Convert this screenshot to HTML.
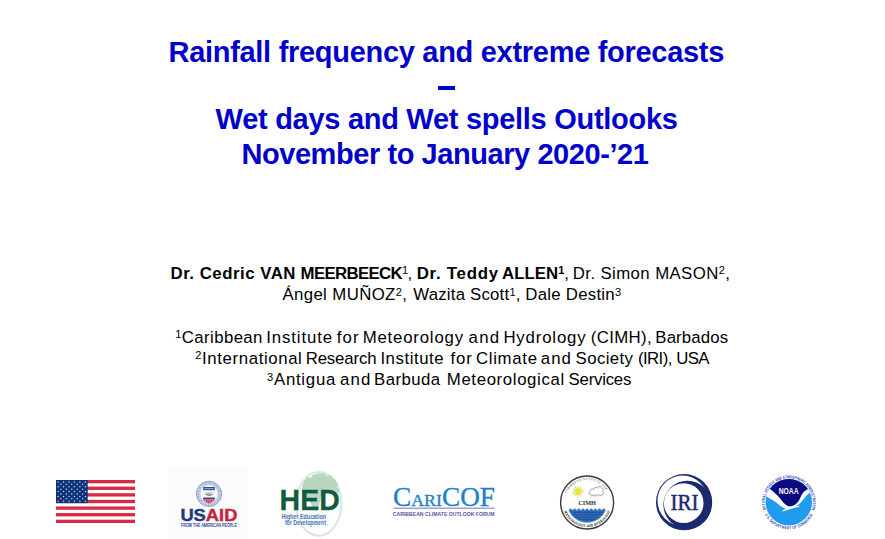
<!DOCTYPE html>
<html><head><meta charset="utf-8">
<style>
html,body{margin:0;padding:0;background:#fff;}
body{width:885px;height:539px;position:relative;overflow:hidden;font-family:"Liberation Sans",sans-serif;}
.t{position:absolute;font-weight:bold;font-size:29.0px;line-height:34px;color:#0000cc;white-space:nowrap;}
.b{position:absolute;font-size:16.8px;line-height:20px;color:#000;white-space:nowrap;}
sup{font-size:66%;vertical-align:baseline;position:relative;top:-0.44em;}
svg{position:absolute;overflow:visible;}
</style></head><body>
<div class="t" style="left:168.5px;top:34.8px;letter-spacing:-0.295px">Rainfall frequency and extreme forecasts</div>
<div class="t" style="left:215.6px;top:101.8px;letter-spacing:-0.284px">Wet days and Wet spells Outlooks</div>
<div class="t" style="left:241.4px;top:137.2px;letter-spacing:-0.43px">November to January 2020-’21</div>
<div style="position:absolute;left:438.4px;top:85.9px;width:16.5px;height:4.2px;background:#0000cc"></div>
<div class="b" style="left:170.5px;top:263.9px;letter-spacing:0.523px"><b>Dr. Cedric VAN</b></div>
<div class="b" style="left:300.6px;top:263.9px;letter-spacing:-0.66px"><b>MEERBEECK</b><sup>1</sup>,</div>
<div class="b" style="left:416.7px;top:263.9px;letter-spacing:0.775px"><b>Dr. Teddy</b></div>
<div class="b" style="left:502.1px;top:263.9px;letter-spacing:0.017px"><b>ALLEN<sup>1</sup></b>,</div>
<div class="b" style="left:572.8px;top:263.9px;letter-spacing:0.4px">Dr. Simon MASON<sup>2</sup>,</div>
<div class="b" style="left:282.4px;top:285.4px;letter-spacing:0.383px">Ángel MUÑOZ<sup>2</sup>,</div>
<div class="b" style="left:413.3px;top:285.4px;letter-spacing:0.208px">Wazita Scott<sup>1</sup>,</div>
<div class="b" style="left:525.3px;top:285.4px;letter-spacing:0.264px">Dale Destin<sup>3</sup></div>
<div class="b" style="left:175.3px;top:327.6px;letter-spacing:0.389px"><sup>1</sup>Caribbean</div>
<div class="b" style="left:266.2px;top:327.6px;letter-spacing:0.9px">Institute</div>
<div class="b" style="left:336.8px;top:327.6px;letter-spacing:1.05px">for</div>
<div class="b" style="left:362.7px;top:327.6px;letter-spacing:0.8px">Meteorology</div>
<div class="b" style="left:468.6px;top:327.6px;letter-spacing:1.25px">and</div>
<div class="b" style="left:503.4px;top:327.6px;letter-spacing:0.838px">Hydrology</div>
<div class="b" style="left:590.8px;top:327.6px;letter-spacing:0.367px">(CIMH),</div>
<div class="b" style="left:655.3px;top:327.6px;letter-spacing:0.143px">Barbados</div>
<div class="b" style="left:195.3px;top:349.0px;letter-spacing:0.615px"><sup>2</sup>International</div>
<div class="b" style="left:305.7px;top:349.0px;letter-spacing:-0.143px">Research</div>
<div class="b" style="left:380.4px;top:349.0px;letter-spacing:0.55px">Institute</div>
<div class="b" style="left:450.6px;top:349.0px;letter-spacing:0.8px">for</div>
<div class="b" style="left:475.9px;top:349.0px;letter-spacing:0.7px">Climate</div>
<div class="b" style="left:540.8px;top:349.0px;letter-spacing:1.036px">and</div>
<div class="b" style="left:575.6px;top:349.0px;letter-spacing:0.383px">Society</div>
<div class="b" style="left:637.9px;top:349.0px;letter-spacing:-0.564px">(IRI),</div>
<div class="b" style="left:676.2px;top:349.0px;letter-spacing:-0.564px">USA</div>
<div class="b" style="left:267.1px;top:370.4px;letter-spacing:0.729px"><sup>3</sup>Antigua</div>
<div class="b" style="left:339.9px;top:370.4px;letter-spacing:1.214px">and</div>
<div class="b" style="left:374.0px;top:370.4px;letter-spacing:0.433px">Barbuda</div>
<div class="b" style="left:446.8px;top:370.4px;letter-spacing:0.631px">Meteorological</div>
<div class="b" style="left:568.6px;top:370.4px;letter-spacing:-0.229px">Services</div>
<svg style="left:0;top:0" width="885" height="539" viewBox="0 0 885 539">
<g id="flag"><rect x="56.0" y="480.0" width="79.0" height="43.0" fill="#fff"/><rect x="56.0" y="480.00" width="79.0" height="3.31" fill="#d62a43"/><rect x="56.0" y="486.62" width="79.0" height="3.31" fill="#d62a43"/><rect x="56.0" y="493.23" width="79.0" height="3.31" fill="#d62a43"/><rect x="56.0" y="499.85" width="79.0" height="3.31" fill="#d62a43"/><rect x="56.0" y="506.46" width="79.0" height="3.31" fill="#d62a43"/><rect x="56.0" y="513.08" width="79.0" height="3.31" fill="#d62a43"/><rect x="56.0" y="519.69" width="79.0" height="3.31" fill="#d62a43"/><rect x="56.0" y="480.0" width="31.7" height="23.15" fill="#0c3279"/><circle cx="58.10" cy="481.95" r="0.75" fill="#fff" opacity=".8"/><circle cx="63.55" cy="481.95" r="0.75" fill="#fff" opacity=".8"/><circle cx="69.00" cy="481.95" r="0.75" fill="#fff" opacity=".8"/><circle cx="74.45" cy="481.95" r="0.75" fill="#fff" opacity=".8"/><circle cx="79.90" cy="481.95" r="0.75" fill="#fff" opacity=".8"/><circle cx="85.35" cy="481.95" r="0.75" fill="#fff" opacity=".8"/><circle cx="60.85" cy="484.36" r="0.75" fill="#fff" opacity=".8"/><circle cx="66.30" cy="484.36" r="0.75" fill="#fff" opacity=".8"/><circle cx="71.75" cy="484.36" r="0.75" fill="#fff" opacity=".8"/><circle cx="77.20" cy="484.36" r="0.75" fill="#fff" opacity=".8"/><circle cx="82.65" cy="484.36" r="0.75" fill="#fff" opacity=".8"/><circle cx="58.10" cy="486.77" r="0.75" fill="#fff" opacity=".8"/><circle cx="63.55" cy="486.77" r="0.75" fill="#fff" opacity=".8"/><circle cx="69.00" cy="486.77" r="0.75" fill="#fff" opacity=".8"/><circle cx="74.45" cy="486.77" r="0.75" fill="#fff" opacity=".8"/><circle cx="79.90" cy="486.77" r="0.75" fill="#fff" opacity=".8"/><circle cx="85.35" cy="486.77" r="0.75" fill="#fff" opacity=".8"/><circle cx="60.85" cy="489.18" r="0.75" fill="#fff" opacity=".8"/><circle cx="66.30" cy="489.18" r="0.75" fill="#fff" opacity=".8"/><circle cx="71.75" cy="489.18" r="0.75" fill="#fff" opacity=".8"/><circle cx="77.20" cy="489.18" r="0.75" fill="#fff" opacity=".8"/><circle cx="82.65" cy="489.18" r="0.75" fill="#fff" opacity=".8"/><circle cx="58.10" cy="491.59" r="0.75" fill="#fff" opacity=".8"/><circle cx="63.55" cy="491.59" r="0.75" fill="#fff" opacity=".8"/><circle cx="69.00" cy="491.59" r="0.75" fill="#fff" opacity=".8"/><circle cx="74.45" cy="491.59" r="0.75" fill="#fff" opacity=".8"/><circle cx="79.90" cy="491.59" r="0.75" fill="#fff" opacity=".8"/><circle cx="85.35" cy="491.59" r="0.75" fill="#fff" opacity=".8"/><circle cx="60.85" cy="494.00" r="0.75" fill="#fff" opacity=".8"/><circle cx="66.30" cy="494.00" r="0.75" fill="#fff" opacity=".8"/><circle cx="71.75" cy="494.00" r="0.75" fill="#fff" opacity=".8"/><circle cx="77.20" cy="494.00" r="0.75" fill="#fff" opacity=".8"/><circle cx="82.65" cy="494.00" r="0.75" fill="#fff" opacity=".8"/><circle cx="58.10" cy="496.41" r="0.75" fill="#fff" opacity=".8"/><circle cx="63.55" cy="496.41" r="0.75" fill="#fff" opacity=".8"/><circle cx="69.00" cy="496.41" r="0.75" fill="#fff" opacity=".8"/><circle cx="74.45" cy="496.41" r="0.75" fill="#fff" opacity=".8"/><circle cx="79.90" cy="496.41" r="0.75" fill="#fff" opacity=".8"/><circle cx="85.35" cy="496.41" r="0.75" fill="#fff" opacity=".8"/><circle cx="60.85" cy="498.82" r="0.75" fill="#fff" opacity=".8"/><circle cx="66.30" cy="498.82" r="0.75" fill="#fff" opacity=".8"/><circle cx="71.75" cy="498.82" r="0.75" fill="#fff" opacity=".8"/><circle cx="77.20" cy="498.82" r="0.75" fill="#fff" opacity=".8"/><circle cx="82.65" cy="498.82" r="0.75" fill="#fff" opacity=".8"/><circle cx="58.10" cy="501.23" r="0.75" fill="#fff" opacity=".8"/><circle cx="63.55" cy="501.23" r="0.75" fill="#fff" opacity=".8"/><circle cx="69.00" cy="501.23" r="0.75" fill="#fff" opacity=".8"/><circle cx="74.45" cy="501.23" r="0.75" fill="#fff" opacity=".8"/><circle cx="79.90" cy="501.23" r="0.75" fill="#fff" opacity=".8"/><circle cx="85.35" cy="501.23" r="0.75" fill="#fff" opacity=".8"/></g>
<g id="usaid"><rect x="168" y="466" width="80" height="73" fill="#fcfcfd"/><circle cx="209.0" cy="493.9" r="12.6" fill="#fff" stroke="#6c84bf" stroke-width="0.8"/><circle cx="209.0" cy="493.9" r="10.9" fill="none" stroke="#8b9dcb" stroke-width="2.6" stroke-dasharray="1.1 0.45" opacity=".85"/><circle cx="209.0" cy="493.9" r="9.2" fill="none" stroke="#8b9dcb" stroke-width="0.6"/><rect x="203.2" y="487.1" width="11.6" height="3.2" rx=".4" fill="#2b4a95"/><rect x="204.3" y="488.2" width="9.4" height="0.9" fill="#c9d2ea" opacity=".8"/><path d="M203.6 492.7 L208 492.9 L210 492.2 L214.6 492.6" stroke="#a5a5a5" stroke-width=".5" fill="none"/><path d="M204.2 494.3 C206.5 493.4 209 493 211.5 493.8 L214.2 494.6 L210.5 496 C208.5 496.4 206.5 495.8 204.2 494.3Z" fill="#8c8c8c" opacity=".85"/><path d="M203.2 497.5 H214.8 V499.3 H203.2Z" fill="#2b4a95"/><path d="M203.2 499.3 H214.8 C214.3 501.2 211.5 502.8 209 503.4 C206.5 502.8 203.7 501.2 203.2 499.3Z" fill="#d8304a"/><rect x="205.0" y="499.4" width=".6" height="3.4" fill="#fff" opacity=".55"/><rect x="206.79999999999998" y="499.4" width=".6" height="3.4" fill="#fff" opacity=".55"/><rect x="208.7" y="499.4" width=".6" height="3.4" fill="#fff" opacity=".55"/><rect x="210.6" y="499.4" width=".6" height="3.4" fill="#fff" opacity=".55"/><rect x="212.39999999999998" y="499.4" width=".6" height="3.4" fill="#fff" opacity=".55"/><text x="180.4" y="521.3" font-family="Liberation Sans" font-size="17.4" font-weight="bold" fill="#1d3b7e" textLength="57.0" lengthAdjust="spacingAndGlyphs" stroke-width=".45"><tspan fill="#1d3b7e" stroke="#1d3b7e">US</tspan><tspan fill="#c8223f" stroke="#c8223f">AID</tspan></text><text x="181.0" y="527.1" font-family="Liberation Sans" font-size="4.7" font-weight="bold" fill="#2f4f9c" textLength="56.0" lengthAdjust="spacingAndGlyphs" >FROM THE AMERICAN PEOPLE</text></g>
<g id="hed"><ellipse cx="318.7" cy="503.8" rx="22.6" ry="31.8" fill="#fff" stroke="#dbe8de" stroke-width="2.2"/><path d="M302 489 C302 484 304.5 479.5 308 477 L311 477.8 L312.5 475 C316 473.4 321 473 325 473.6 L326.5 476 L329.5 475 C333.5 477 337 481 338.6 485.5 L336.5 486.5 L339.6 489.5 C340 491 339.5 493 337.5 493 L334.5 490.5 L332 493.5 L329.5 490.5 L327 493.5 L324 491.5 C322 493 321 496 320.5 499 C320 503 318.5 508 316 511.5 C313.5 509 312 505 310 502 C307.5 499 304 496.5 302.8 493 Z" fill="#b9d6bf"/><text x="279.6" y="509.9" font-family="Liberation Sans" font-size="30.2" font-weight="bold" fill="#0f5c3e" textLength="60.2" lengthAdjust="spacingAndGlyphs" stroke="#0f5c3e" stroke-width=".3">HED</text><text x="281.4" y="518.6" font-family="Liberation Sans" font-size="7.8" font-weight="bold" fill="#3f73b4" textLength="44.6" lengthAdjust="spacingAndGlyphs" >Higher Education</text><text x="284.9" y="525.4" font-family="Liberation Sans" font-size="7.5" font-weight="bold" fill="#3f73b4" textLength="41.0" lengthAdjust="spacingAndGlyphs" >for Development</text><circle cx="327.4" cy="524.9" r=".5" fill="#8fb0d6"/></g>
<g id="caricof"><text x="393.0" y="505.5" font-family="Liberation Serif" font-size="26.8" fill="#1f7fc8" textLength="102" lengthAdjust="spacingAndGlyphs" stroke="#1f7fc8" stroke-width=".35">C<tspan font-size="17.6">ARI</tspan>COF</text><rect x="393.8" y="507.5" width="100.8" height="1.5" fill="#a3a1cf"/><text x="392.8" y="515.6" font-family="Liberation Sans" font-size="5.7" font-weight="bold" fill="#56539f" textLength="101.8" lengthAdjust="spacingAndGlyphs" >CARIBBEAN CLIMATE OUTLOOK FORUM</text></g>
<g id="cimh"><circle cx="587.1" cy="502.5" r="26.5" fill="#fff" stroke="#3a3a3a" stroke-width="1.4"/><text transform="translate(566.89 492.61) rotate(296.1) scale(0.8 1)" text-anchor="middle" font-family="Liberation Serif" font-size="3.3" font-weight="bold" fill="#707070" >C</text><text transform="translate(568.06 490.51) rotate(302.2) scale(0.8 1)" text-anchor="middle" font-family="Liberation Serif" font-size="3.3" font-weight="bold" fill="#707070" >A</text><text transform="translate(569.45 488.54) rotate(308.3) scale(0.8 1)" text-anchor="middle" font-family="Liberation Serif" font-size="3.3" font-weight="bold" fill="#707070" >R</text><text transform="translate(570.58 487.22) rotate(312.8) scale(0.8 1)" text-anchor="middle" font-family="Liberation Serif" font-size="3.3" font-weight="bold" fill="#707070" >I</text><text transform="translate(571.81 485.99) rotate(317.2) scale(0.8 1)" text-anchor="middle" font-family="Liberation Serif" font-size="3.3" font-weight="bold" fill="#707070" >B</text><text transform="translate(573.66 484.45) rotate(323.3) scale(0.8 1)" text-anchor="middle" font-family="Liberation Serif" font-size="3.3" font-weight="bold" fill="#707070" >B</text><text transform="translate(575.67 483.12) rotate(329.5) scale(0.8 1)" text-anchor="middle" font-family="Liberation Serif" font-size="3.3" font-weight="bold" fill="#707070" >E</text><text transform="translate(577.80 482.01) rotate(335.6) scale(0.8 1)" text-anchor="middle" font-family="Liberation Serif" font-size="3.3" font-weight="bold" fill="#707070" >A</text><text transform="translate(580.05 481.13) rotate(341.7) scale(0.8 1)" text-anchor="middle" font-family="Liberation Serif" font-size="3.3" font-weight="bold" fill="#707070" >N</text><text transform="translate(582.75 480.42) rotate(348.9) scale(0.8 1)" text-anchor="middle" font-family="Liberation Serif" font-size="3.3" font-weight="bold" fill="#707070" >I</text><text transform="translate(584.47 480.15) rotate(353.3) scale(0.8 1)" text-anchor="middle" font-family="Liberation Serif" font-size="3.3" font-weight="bold" fill="#707070" >N</text><text transform="translate(586.87 480.00) rotate(359.4) scale(0.8 1)" text-anchor="middle" font-family="Liberation Serif" font-size="3.3" font-weight="bold" fill="#707070" >S</text><text transform="translate(589.28 480.11) rotate(365.6) scale(0.8 1)" text-anchor="middle" font-family="Liberation Serif" font-size="3.3" font-weight="bold" fill="#707070" >T</text><text transform="translate(591.00 480.34) rotate(370.0) scale(0.8 1)" text-anchor="middle" font-family="Liberation Serif" font-size="3.3" font-weight="bold" fill="#707070" >I</text><text transform="translate(592.70 480.71) rotate(374.4) scale(0.8 1)" text-anchor="middle" font-family="Liberation Serif" font-size="3.3" font-weight="bold" fill="#707070" >T</text><text transform="translate(594.99 481.43) rotate(380.5) scale(0.8 1)" text-anchor="middle" font-family="Liberation Serif" font-size="3.3" font-weight="bold" fill="#707070" >U</text><text transform="translate(597.20 482.40) rotate(386.7) scale(0.8 1)" text-anchor="middle" font-family="Liberation Serif" font-size="3.3" font-weight="bold" fill="#707070" >T</text><text transform="translate(599.29 483.59) rotate(392.8) scale(0.8 1)" text-anchor="middle" font-family="Liberation Serif" font-size="3.3" font-weight="bold" fill="#707070" >E</text><text transform="translate(602.06 485.69) rotate(401.7) scale(0.8 1)" text-anchor="middle" font-family="Liberation Serif" font-size="3.3" font-weight="bold" fill="#707070" >F</text><text transform="translate(603.77 487.38) rotate(407.8) scale(0.8 1)" text-anchor="middle" font-family="Liberation Serif" font-size="3.3" font-weight="bold" fill="#707070" >O</text><text transform="translate(605.29 489.25) rotate(413.9) scale(0.8 1)" text-anchor="middle" font-family="Liberation Serif" font-size="3.3" font-weight="bold" fill="#707070" >R</text><text transform="translate(564.73 512.73) rotate(65.4) scale(0.8 1)" text-anchor="middle" font-family="Liberation Serif" font-size="3.5" font-weight="bold" fill="#3c3c3c" stroke="#3c3c3c" stroke-width=".12">M</text><text transform="translate(566.02 515.17) rotate(59.0) scale(0.8 1)" text-anchor="middle" font-family="Liberation Serif" font-size="3.5" font-weight="bold" fill="#3c3c3c" stroke="#3c3c3c" stroke-width=".12">E</text><text transform="translate(567.38 517.21) rotate(53.3) scale(0.8 1)" text-anchor="middle" font-family="Liberation Serif" font-size="3.5" font-weight="bold" fill="#3c3c3c" stroke="#3c3c3c" stroke-width=".12">T</text><text transform="translate(568.95 519.10) rotate(47.6) scale(0.8 1)" text-anchor="middle" font-family="Liberation Serif" font-size="3.5" font-weight="bold" fill="#3c3c3c" stroke="#3c3c3c" stroke-width=".12">E</text><text transform="translate(570.69 520.83) rotate(41.8) scale(0.8 1)" text-anchor="middle" font-family="Liberation Serif" font-size="3.5" font-weight="bold" fill="#3c3c3c" stroke="#3c3c3c" stroke-width=".12">O</text><text transform="translate(572.60 522.37) rotate(36.1) scale(0.8 1)" text-anchor="middle" font-family="Liberation Serif" font-size="3.5" font-weight="bold" fill="#3c3c3c" stroke="#3c3c3c" stroke-width=".12">R</text><text transform="translate(574.65 523.72) rotate(30.4) scale(0.8 1)" text-anchor="middle" font-family="Liberation Serif" font-size="3.5" font-weight="bold" fill="#3c3c3c" stroke="#3c3c3c" stroke-width=".12">O</text><text transform="translate(576.83 524.85) rotate(24.7) scale(0.8 1)" text-anchor="middle" font-family="Liberation Serif" font-size="3.5" font-weight="bold" fill="#3c3c3c" stroke="#3c3c3c" stroke-width=".12">L</text><text transform="translate(579.11 525.76) rotate(19.0) scale(0.8 1)" text-anchor="middle" font-family="Liberation Serif" font-size="3.5" font-weight="bold" fill="#3c3c3c" stroke="#3c3c3c" stroke-width=".12">O</text><text transform="translate(581.46 526.45) rotate(13.2) scale(0.8 1)" text-anchor="middle" font-family="Liberation Serif" font-size="3.5" font-weight="bold" fill="#3c3c3c" stroke="#3c3c3c" stroke-width=".12">G</text><text transform="translate(583.88 526.89) rotate(7.5) scale(0.8 1)" text-anchor="middle" font-family="Liberation Serif" font-size="3.5" font-weight="bold" fill="#3c3c3c" stroke="#3c3c3c" stroke-width=".12">Y</text><text transform="translate(587.41 527.10) rotate(-0.7) scale(0.8 1)" text-anchor="middle" font-family="Liberation Serif" font-size="3.5" font-weight="bold" fill="#3c3c3c" stroke="#3c3c3c" stroke-width=".12">A</text><text transform="translate(589.86 526.95) rotate(-6.4) scale(0.8 1)" text-anchor="middle" font-family="Liberation Serif" font-size="3.5" font-weight="bold" fill="#3c3c3c" stroke="#3c3c3c" stroke-width=".12">N</text><text transform="translate(592.28 526.55) rotate(-12.2) scale(0.8 1)" text-anchor="middle" font-family="Liberation Serif" font-size="3.5" font-weight="bold" fill="#3c3c3c" stroke="#3c3c3c" stroke-width=".12">D</text><text transform="translate(595.67 525.56) rotate(-20.4) scale(0.8 1)" text-anchor="middle" font-family="Liberation Serif" font-size="3.5" font-weight="bold" fill="#3c3c3c" stroke="#3c3c3c" stroke-width=".12">H</text><text transform="translate(597.93 524.59) rotate(-26.1) scale(0.8 1)" text-anchor="middle" font-family="Liberation Serif" font-size="3.5" font-weight="bold" fill="#3c3c3c" stroke="#3c3c3c" stroke-width=".12">Y</text><text transform="translate(600.07 523.40) rotate(-31.8) scale(0.8 1)" text-anchor="middle" font-family="Liberation Serif" font-size="3.5" font-weight="bold" fill="#3c3c3c" stroke="#3c3c3c" stroke-width=".12">D</text><text transform="translate(602.09 522.00) rotate(-37.5) scale(0.8 1)" text-anchor="middle" font-family="Liberation Serif" font-size="3.5" font-weight="bold" fill="#3c3c3c" stroke="#3c3c3c" stroke-width=".12">R</text><text transform="translate(603.96 520.41) rotate(-43.3) scale(0.8 1)" text-anchor="middle" font-family="Liberation Serif" font-size="3.5" font-weight="bold" fill="#3c3c3c" stroke="#3c3c3c" stroke-width=".12">O</text><text transform="translate(605.66 518.64) rotate(-49.0) scale(0.8 1)" text-anchor="middle" font-family="Liberation Serif" font-size="3.5" font-weight="bold" fill="#3c3c3c" stroke="#3c3c3c" stroke-width=".12">L</text><text transform="translate(607.18 516.71) rotate(-54.7) scale(0.8 1)" text-anchor="middle" font-family="Liberation Serif" font-size="3.5" font-weight="bold" fill="#3c3c3c" stroke="#3c3c3c" stroke-width=".12">O</text><text transform="translate(608.49 514.64) rotate(-60.4) scale(0.8 1)" text-anchor="middle" font-family="Liberation Serif" font-size="3.5" font-weight="bold" fill="#3c3c3c" stroke="#3c3c3c" stroke-width=".12">G</text><text transform="translate(609.60 512.45) rotate(-66.1) scale(0.8 1)" text-anchor="middle" font-family="Liberation Serif" font-size="3.5" font-weight="bold" fill="#3c3c3c" stroke="#3c3c3c" stroke-width=".12">Y</text><path d="M568.58 510.30 q2.06 -3.4 4.12 0 q2.06 -3.4 4.12 0 q2.06 -3.4 4.12 0 q2.06 -3.4 4.12 0 q2.06 -3.4 4.12 0 q2.06 -3.4 4.12 0 q2.06 -3.4 4.12 0 q2.06 -3.4 4.12 0 q2.06 -3.4 4.12 0 A20.1 20.1 0 0 1 568.58 510.30Z" fill="#2e68b6" stroke="#a9cfea" stroke-width=".7"/><path d="M571.04 512.80 q2.01 -1.8 4.02 0 q2.01 -1.8 4.02 0 q2.01 -1.8 4.02 0 q2.01 -1.8 4.02 0 q2.01 -1.8 4.02 0 q2.01 -1.8 4.02 0 q2.01 -1.8 4.02 0 q2.01 -1.8 4.02 0" fill="none" stroke="#1b4c98" stroke-width=".9" opacity=".9"/><path d="M572.72 515.20 q2.05 -1.8 4.11 0 q2.05 -1.8 4.11 0 q2.05 -1.8 4.11 0 q2.05 -1.8 4.11 0 q2.05 -1.8 4.11 0 q2.05 -1.8 4.11 0 q2.05 -1.8 4.11 0" fill="none" stroke="#1b4c98" stroke-width=".9" opacity=".9"/><path d="M575.03 517.60 q2.01 -1.8 4.02 0 q2.01 -1.8 4.02 0 q2.01 -1.8 4.02 0 q2.01 -1.8 4.02 0 q2.01 -1.8 4.02 0 q2.01 -1.8 4.02 0" fill="none" stroke="#1b4c98" stroke-width=".9" opacity=".9"/><path d="M578.41 520.00 q2.17 -1.8 4.34 0 q2.17 -1.8 4.34 0 q2.17 -1.8 4.34 0 q2.17 -1.8 4.34 0" fill="none" stroke="#1b4c98" stroke-width=".9" opacity=".9"/><line x1="580.10" y1="491.60" x2="583.50" y2="491.60" stroke="#d9cc3a" stroke-width=".9"/><line x1="579.81" y1="492.70" x2="582.75" y2="494.40" stroke="#d9cc3a" stroke-width=".9"/><line x1="579.00" y1="493.51" x2="580.70" y2="496.45" stroke="#d9cc3a" stroke-width=".9"/><line x1="577.90" y1="493.80" x2="577.90" y2="497.20" stroke="#d9cc3a" stroke-width=".9"/><line x1="576.80" y1="493.51" x2="575.10" y2="496.45" stroke="#d9cc3a" stroke-width=".9"/><line x1="575.99" y1="492.70" x2="573.05" y2="494.40" stroke="#d9cc3a" stroke-width=".9"/><line x1="575.70" y1="491.60" x2="572.30" y2="491.60" stroke="#d9cc3a" stroke-width=".9"/><line x1="575.99" y1="490.50" x2="573.05" y2="488.80" stroke="#d9cc3a" stroke-width=".9"/><line x1="576.80" y1="489.69" x2="575.10" y2="486.75" stroke="#d9cc3a" stroke-width=".9"/><line x1="577.90" y1="489.40" x2="577.90" y2="486.00" stroke="#d9cc3a" stroke-width=".9"/><line x1="579.00" y1="489.69" x2="580.70" y2="486.75" stroke="#d9cc3a" stroke-width=".9"/><line x1="579.81" y1="490.50" x2="582.75" y2="488.80" stroke="#d9cc3a" stroke-width=".9"/><circle cx="577.9" cy="491.6" r="3.0" fill="#f2e61f"/><path d="M590.8 494.8 C588.6 494.8 588.4 492 590.2 491.4 C589.8 489.4 592.4 488.2 593.6 489.6 C593.8 487.4 596.4 486.6 597.4 488 C598.2 485.8 601.6 486 601.8 488.4 C603.4 488.6 603.8 490.8 602.6 491.6 C604.2 492.4 603.8 494.8 602 494.8 C600.6 495.6 599.4 495.4 598.6 494.8 C597.6 495.6 596.2 495.4 595.4 494.8 C594.4 495.6 592 495.6 590.8 494.8Z" fill="#fff" stroke="#7d7d7d" stroke-width=".75"/><path d="M589.5 496.8 H597" stroke="#c4c4c4" stroke-width=".5"/><text x="578.2" y="504.8" font-family="Liberation Serif" font-size="6.9" font-weight="bold" fill="#333" textLength="17.8" lengthAdjust="spacingAndGlyphs" >CIMH</text></g>
<g id="iri"><circle cx="684.1" cy="502.2" r="28.1" fill="#1b2a6e"/><circle cx="682.6" cy="500.7" r="25.1" fill="#fff"/><circle cx="687.4" cy="504.7" r="24.0" fill="#1b2a6e"/><circle cx="683.7" cy="503.1" r="19.8" fill="#fff"/><text x="670.4" y="509.9" font-family="Liberation Serif" font-size="23.2" fill="#1b2a6e" textLength="28.0" lengthAdjust="spacingAndGlyphs" stroke="#1b2a6e" stroke-width=".5">IRI</text></g>
<g id="noaa"><defs><clipPath id="noaaClip"><circle cx="788.8" cy="502.2" r="23.2"/></clipPath></defs><text transform="translate(765.66 508.58) rotate(254.6) scale(0.72 1)" text-anchor="middle" font-family="Liberation Sans" font-size="4.2" font-weight="bold" fill="#2745b0" >N</text><text transform="translate(765.18 506.48) rotate(259.7) scale(0.72 1)" text-anchor="middle" font-family="Liberation Sans" font-size="4.2" font-weight="bold" fill="#2745b0" >A</text><text transform="translate(764.90 504.34) rotate(264.9) scale(0.72 1)" text-anchor="middle" font-family="Liberation Sans" font-size="4.2" font-weight="bold" fill="#2745b0" >T</text><text transform="translate(764.81 502.79) rotate(268.6) scale(0.72 1)" text-anchor="middle" font-family="Liberation Sans" font-size="4.2" font-weight="bold" fill="#2745b0" >I</text><text transform="translate(764.82 501.23) rotate(272.3) scale(0.72 1)" text-anchor="middle" font-family="Liberation Sans" font-size="4.2" font-weight="bold" fill="#2745b0" >O</text><text transform="translate(765.00 499.08) rotate(277.5) scale(0.72 1)" text-anchor="middle" font-family="Liberation Sans" font-size="4.2" font-weight="bold" fill="#2745b0" >N</text><text transform="translate(765.38 496.96) rotate(282.6) scale(0.72 1)" text-anchor="middle" font-family="Liberation Sans" font-size="4.2" font-weight="bold" fill="#2745b0" >A</text><text transform="translate(765.95 494.87) rotate(287.8) scale(0.72 1)" text-anchor="middle" font-family="Liberation Sans" font-size="4.2" font-weight="bold" fill="#2745b0" >L</text><text transform="translate(767.08 491.98) rotate(295.2) scale(0.72 1)" text-anchor="middle" font-family="Liberation Sans" font-size="4.2" font-weight="bold" fill="#2745b0" >O</text><text transform="translate(768.09 490.07) rotate(300.4) scale(0.72 1)" text-anchor="middle" font-family="Liberation Sans" font-size="4.2" font-weight="bold" fill="#2745b0" >C</text><text transform="translate(769.26 488.26) rotate(305.5) scale(0.72 1)" text-anchor="middle" font-family="Liberation Sans" font-size="4.2" font-weight="bold" fill="#2745b0" >E</text><text transform="translate(770.59 486.56) rotate(310.7) scale(0.72 1)" text-anchor="middle" font-family="Liberation Sans" font-size="4.2" font-weight="bold" fill="#2745b0" >A</text><text transform="translate(772.07 484.99) rotate(315.8) scale(0.72 1)" text-anchor="middle" font-family="Liberation Sans" font-size="4.2" font-weight="bold" fill="#2745b0" >N</text><text transform="translate(773.22 483.94) rotate(319.5) scale(0.72 1)" text-anchor="middle" font-family="Liberation Sans" font-size="4.2" font-weight="bold" fill="#2745b0" >I</text><text transform="translate(774.44 482.97) rotate(323.2) scale(0.72 1)" text-anchor="middle" font-family="Liberation Sans" font-size="4.2" font-weight="bold" fill="#2745b0" >C</text><text transform="translate(777.04 481.28) rotate(330.7) scale(0.72 1)" text-anchor="middle" font-family="Liberation Sans" font-size="4.2" font-weight="bold" fill="#2745b0" >A</text><text transform="translate(778.97 480.31) rotate(335.8) scale(0.72 1)" text-anchor="middle" font-family="Liberation Sans" font-size="4.2" font-weight="bold" fill="#2745b0" >N</text><text transform="translate(780.98 479.51) rotate(341.0) scale(0.72 1)" text-anchor="middle" font-family="Liberation Sans" font-size="4.2" font-weight="bold" fill="#2745b0" >D</text><text transform="translate(783.98 478.69) rotate(348.4) scale(0.72 1)" text-anchor="middle" font-family="Liberation Sans" font-size="4.2" font-weight="bold" fill="#2745b0" >A</text><text transform="translate(786.11 478.35) rotate(353.6) scale(0.72 1)" text-anchor="middle" font-family="Liberation Sans" font-size="4.2" font-weight="bold" fill="#2745b0" >T</text><text transform="translate(788.53 478.20) rotate(359.4) scale(0.72 1)" text-anchor="middle" font-family="Liberation Sans" font-size="4.2" font-weight="bold" fill="#2745b0" >M</text><text transform="translate(790.96 478.30) rotate(365.2) scale(0.72 1)" text-anchor="middle" font-family="Liberation Sans" font-size="4.2" font-weight="bold" fill="#2745b0" >O</text><text transform="translate(793.09 478.59) rotate(370.3) scale(0.72 1)" text-anchor="middle" font-family="Liberation Sans" font-size="4.2" font-weight="bold" fill="#2745b0" >S</text><text transform="translate(795.20 479.07) rotate(375.5) scale(0.72 1)" text-anchor="middle" font-family="Liberation Sans" font-size="4.2" font-weight="bold" fill="#2745b0" >P</text><text transform="translate(797.25 479.74) rotate(380.6) scale(0.72 1)" text-anchor="middle" font-family="Liberation Sans" font-size="4.2" font-weight="bold" fill="#2745b0" >H</text><text transform="translate(799.23 480.59) rotate(385.8) scale(0.72 1)" text-anchor="middle" font-family="Liberation Sans" font-size="4.2" font-weight="bold" fill="#2745b0" >E</text><text transform="translate(801.13 481.61) rotate(390.9) scale(0.72 1)" text-anchor="middle" font-family="Liberation Sans" font-size="4.2" font-weight="bold" fill="#2745b0" >R</text><text transform="translate(802.44 482.45) rotate(394.6) scale(0.72 1)" text-anchor="middle" font-family="Liberation Sans" font-size="4.2" font-weight="bold" fill="#2745b0" >I</text><text transform="translate(803.69 483.38) rotate(398.3) scale(0.72 1)" text-anchor="middle" font-family="Liberation Sans" font-size="4.2" font-weight="bold" fill="#2745b0" >C</text><text transform="translate(806.00 485.46) rotate(405.8) scale(0.72 1)" text-anchor="middle" font-family="Liberation Sans" font-size="4.2" font-weight="bold" fill="#2745b0" >A</text><text transform="translate(807.43 487.07) rotate(410.9) scale(0.72 1)" text-anchor="middle" font-family="Liberation Sans" font-size="4.2" font-weight="bold" fill="#2745b0" >D</text><text transform="translate(808.87 489.03) rotate(416.7) scale(0.72 1)" text-anchor="middle" font-family="Liberation Sans" font-size="4.2" font-weight="bold" fill="#2745b0" >M</text><text transform="translate(809.81 490.60) rotate(421.1) scale(0.72 1)" text-anchor="middle" font-family="Liberation Sans" font-size="4.2" font-weight="bold" fill="#2745b0" >I</text><text transform="translate(810.52 491.98) rotate(424.8) scale(0.72 1)" text-anchor="middle" font-family="Liberation Sans" font-size="4.2" font-weight="bold" fill="#2745b0" >N</text><text transform="translate(811.13 493.41) rotate(428.5) scale(0.72 1)" text-anchor="middle" font-family="Liberation Sans" font-size="4.2" font-weight="bold" fill="#2745b0" >I</text><text transform="translate(811.65 494.87) rotate(432.2) scale(0.72 1)" text-anchor="middle" font-family="Liberation Sans" font-size="4.2" font-weight="bold" fill="#2745b0" >S</text><text transform="translate(812.22 496.96) rotate(437.4) scale(0.72 1)" text-anchor="middle" font-family="Liberation Sans" font-size="4.2" font-weight="bold" fill="#2745b0" >T</text><text transform="translate(812.60 499.08) rotate(442.5) scale(0.72 1)" text-anchor="middle" font-family="Liberation Sans" font-size="4.2" font-weight="bold" fill="#2745b0" >R</text><text transform="translate(812.78 501.23) rotate(447.7) scale(0.72 1)" text-anchor="middle" font-family="Liberation Sans" font-size="4.2" font-weight="bold" fill="#2745b0" >A</text><text transform="translate(812.77 503.39) rotate(452.8) scale(0.72 1)" text-anchor="middle" font-family="Liberation Sans" font-size="4.2" font-weight="bold" fill="#2745b0" >T</text><text transform="translate(812.64 504.94) rotate(456.6) scale(0.72 1)" text-anchor="middle" font-family="Liberation Sans" font-size="4.2" font-weight="bold" fill="#2745b0" >I</text><text transform="translate(812.42 506.48) rotate(460.3) scale(0.72 1)" text-anchor="middle" font-family="Liberation Sans" font-size="4.2" font-weight="bold" fill="#2745b0" >O</text><text transform="translate(811.94 508.58) rotate(465.4) scale(0.72 1)" text-anchor="middle" font-family="Liberation Sans" font-size="4.2" font-weight="bold" fill="#2745b0" >N</text><text transform="translate(765.22 515.55) rotate(60.5) scale(0.76 1)" text-anchor="middle" font-family="Liberation Sans" font-size="4.2" font-weight="bold" fill="#2745b0" >U</text><text transform="translate(766.11 517.02) rotate(56.8) scale(0.76 1)" text-anchor="middle" font-family="Liberation Sans" font-size="4.2" font-weight="bold" fill="#2745b0" >.</text><text transform="translate(767.10 518.43) rotate(53.2) scale(0.76 1)" text-anchor="middle" font-family="Liberation Sans" font-size="4.2" font-weight="bold" fill="#2745b0" >S</text><text transform="translate(768.17 519.78) rotate(49.6) scale(0.76 1)" text-anchor="middle" font-family="Liberation Sans" font-size="4.2" font-weight="bold" fill="#2745b0" >.</text><text transform="translate(770.08 521.79) rotate(43.7) scale(0.76 1)" text-anchor="middle" font-family="Liberation Sans" font-size="4.2" font-weight="bold" fill="#2745b0" >D</text><text transform="translate(771.88 523.37) rotate(38.6) scale(0.76 1)" text-anchor="middle" font-family="Liberation Sans" font-size="4.2" font-weight="bold" fill="#2745b0" >E</text><text transform="translate(773.80 524.77) rotate(33.6) scale(0.76 1)" text-anchor="middle" font-family="Liberation Sans" font-size="4.2" font-weight="bold" fill="#2745b0" >P</text><text transform="translate(775.85 526.00) rotate(28.5) scale(0.76 1)" text-anchor="middle" font-family="Liberation Sans" font-size="4.2" font-weight="bold" fill="#2745b0" >A</text><text transform="translate(777.99 527.05) rotate(23.5) scale(0.76 1)" text-anchor="middle" font-family="Liberation Sans" font-size="4.2" font-weight="bold" fill="#2745b0" >R</text><text transform="translate(780.22 527.91) rotate(18.5) scale(0.76 1)" text-anchor="middle" font-family="Liberation Sans" font-size="4.2" font-weight="bold" fill="#2745b0" >T</text><text transform="translate(782.81 528.63) rotate(12.8) scale(0.76 1)" text-anchor="middle" font-family="Liberation Sans" font-size="4.2" font-weight="bold" fill="#2745b0" >M</text><text transform="translate(785.45 529.09) rotate(7.1) scale(0.76 1)" text-anchor="middle" font-family="Liberation Sans" font-size="4.2" font-weight="bold" fill="#2745b0" >E</text><text transform="translate(787.83 529.28) rotate(2.0) scale(0.76 1)" text-anchor="middle" font-family="Liberation Sans" font-size="4.2" font-weight="bold" fill="#2745b0" >N</text><text transform="translate(790.22 529.26) rotate(-3.0) scale(0.76 1)" text-anchor="middle" font-family="Liberation Sans" font-size="4.2" font-weight="bold" fill="#2745b0" >T</text><text transform="translate(793.64 528.86) rotate(-10.3) scale(0.76 1)" text-anchor="middle" font-family="Liberation Sans" font-size="4.2" font-weight="bold" fill="#2745b0" >O</text><text transform="translate(795.97 528.34) rotate(-15.3) scale(0.76 1)" text-anchor="middle" font-family="Liberation Sans" font-size="4.2" font-weight="bold" fill="#2745b0" >F</text><text transform="translate(799.22 527.22) rotate(-22.6) scale(0.76 1)" text-anchor="middle" font-family="Liberation Sans" font-size="4.2" font-weight="bold" fill="#2745b0" >C</text><text transform="translate(801.38 526.20) rotate(-27.7) scale(0.76 1)" text-anchor="middle" font-family="Liberation Sans" font-size="4.2" font-weight="bold" fill="#2745b0" >O</text><text transform="translate(803.69 524.84) rotate(-33.3) scale(0.76 1)" text-anchor="middle" font-family="Liberation Sans" font-size="4.2" font-weight="bold" fill="#2745b0" >M</text><text transform="translate(806.09 523.07) rotate(-39.6) scale(0.76 1)" text-anchor="middle" font-family="Liberation Sans" font-size="4.2" font-weight="bold" fill="#2745b0" >M</text><text transform="translate(808.07 521.25) rotate(-45.3) scale(0.76 1)" text-anchor="middle" font-family="Liberation Sans" font-size="4.2" font-weight="bold" fill="#2745b0" >E</text><text transform="translate(809.67 519.48) rotate(-50.4) scale(0.76 1)" text-anchor="middle" font-family="Liberation Sans" font-size="4.2" font-weight="bold" fill="#2745b0" >R</text><text transform="translate(811.11 517.58) rotate(-55.4) scale(0.76 1)" text-anchor="middle" font-family="Liberation Sans" font-size="4.2" font-weight="bold" fill="#2745b0" >C</text><text transform="translate(812.38 515.55) rotate(-60.5) scale(0.76 1)" text-anchor="middle" font-family="Liberation Sans" font-size="4.2" font-weight="bold" fill="#2745b0" >E</text><g clip-path="url(#noaaClip)"><rect x="764.8" y="478.2" width="48" height="48" fill="#1f9cf0"/><path d="M764 476 H814 V487.5 L814 487.5 Z" fill="none"/><path d="M764 478 L764 488.8 C768 488.6 770 489 771.5 490.2 C774.5 492.6 776.6 494.6 778.7 496.9 C781 499.5 782.8 502 784.5 503.8 C786 505.4 787.8 506.6 789.6 506.6 C792.4 506.6 795 505.2 797.1 503.1 C799.2 500.8 800.4 497.6 801.7 495 C803.4 491.8 805.6 490 808.6 489 C810 488.5 812 487.8 814 487.5 L814 478 Z" fill="#0b0b80"/><path d="M764 488.8 C768 488.6 770 489 771.5 490.2 C774.5 492.6 776.6 494.6 778.7 496.9 C781 499.5 782.8 502 784.5 503.8 C786 505.4 787.8 506.6 789.6 506.6 C792.4 506.6 795 505.2 797.1 503.1 C799.2 500.8 800.4 497.6 801.7 495 C803.4 491.8 805.6 490 808.6 489 C810 488.5 812 487.8 814 487.5 L814 490.2 C811.5 491.2 809 493 806.3 495.8 C804 498.4 802.6 500.6 800.6 502.8 C799.3 504.2 798 505.3 796.4 506.1 L799.3 506.0 L799.4 507.0 C796.6 507.3 794.5 507.8 792.5 508.4 C789 509.4 785.5 510.6 781.4 511.6 C782.8 510.5 784.3 509.5 785.8 508.7 C784.8 508.5 783.6 508 782.4 507.2 C781.2 506.4 780.4 505.8 779.9 505.4 C777.5 503.4 775.5 501.8 773 500.2 C770.5 498.6 768.2 497.4 766 496.7 L764 496.2 Z" fill="#fff"/></g><text x="778.7" y="494.4" font-family="Liberation Sans" font-size="8.6" font-weight="bold" fill="#fff" textLength="19.9" lengthAdjust="spacingAndGlyphs" >NOAA</text></g>
</svg>
</body></html>
